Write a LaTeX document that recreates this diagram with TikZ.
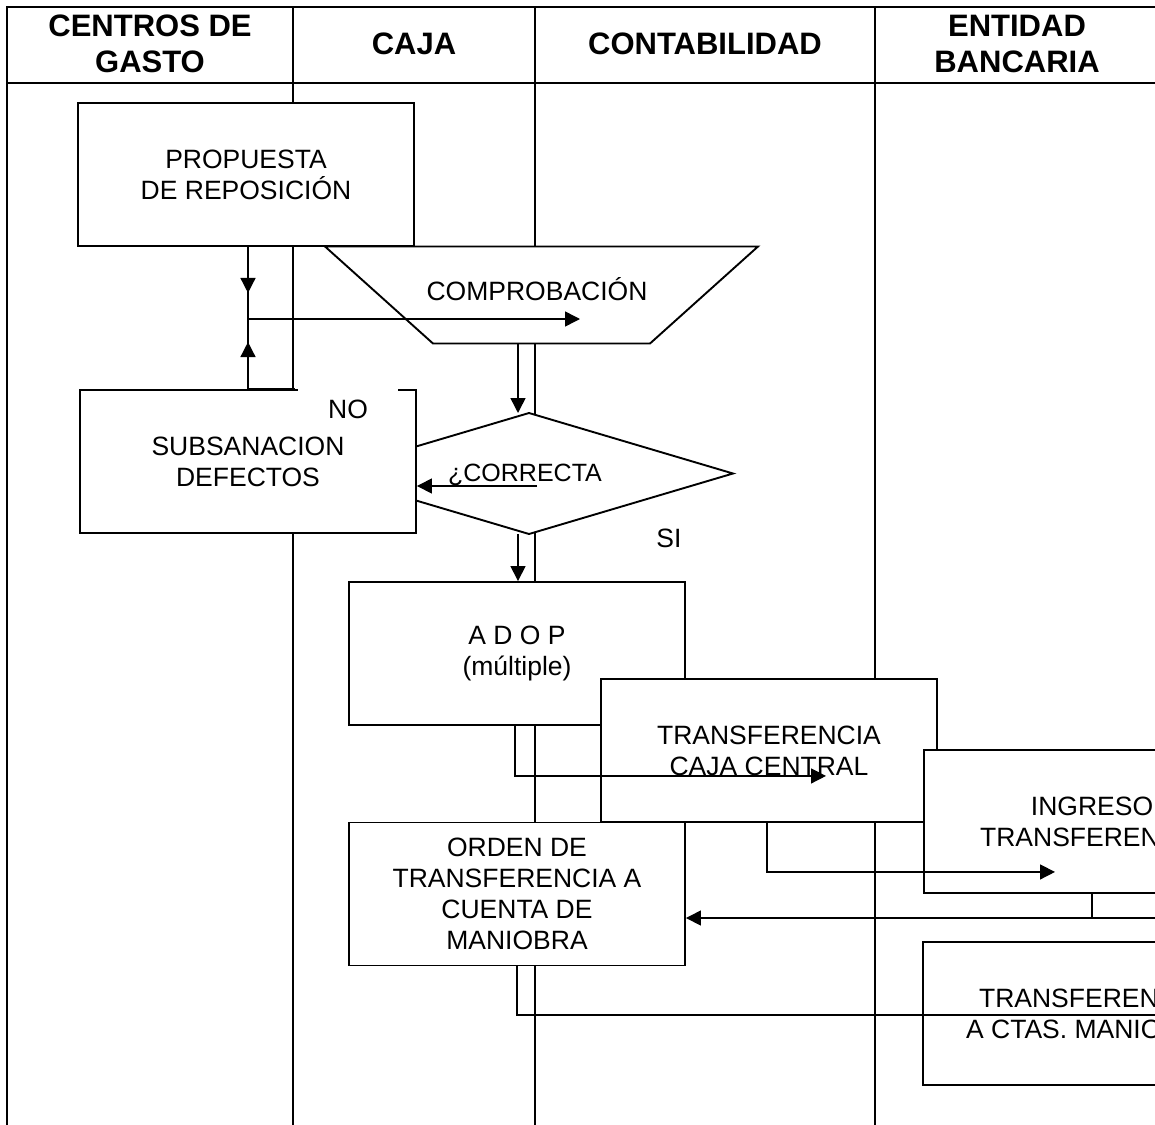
\documentclass[tikz,border=0pt]{standalone}
\usepackage{fontspec}
\setmainfont{Liberation Sans}
\usetikzlibrary{arrows.meta}
\begin{document}
\begin{tikzpicture}[x=1pt,y=-1pt,
  lane/.style={line width=2pt},
  rule/.style={line width=2.6pt},
  hdr/.style={font=\fontsize{31}{36}\selectfont\bfseries, align=center, inner sep=0pt},
  txt/.style={font=\fontsize{26.5}{31}\selectfont, align=center, inner sep=0pt},
  stepbox/.style={draw, line width=1.9pt, fill=white, minimum width=336pt,
    minimum height=143pt, inner sep=0pt, align=center, font=\fontsize{26.5}{31}\selectfont},
  frame/.style={minimum width=#1, inner sep=0pt, outer sep=0pt},
  shapeline/.style={draw, line width=1.9pt, fill=white},
  conn/.style={line width=1.5pt},
  flow/.style={line width=1.5pt, -{Triangle[length=15pt,width=15pt]}}
]
\useasboundingbox (0,0) rectangle (1155,1124);
\clip (0,0) rectangle (1155,1124);

% swimlane grid
\coordinate (c0) at (7,7);
\coordinate (c1) at (293,7);
\coordinate (c2) at (535,7);
\coordinate (c3) at (875,7);
\draw[rule] (7,1130) -- (c0) -- (1170,7);
\draw[rule] (7,83) -- (1170,83);
\foreach \c in {c1,c2,c3} \draw[lane] (\c) -- (\c |- 0,1130);

% lane titles
\node[hdr] (hcg)   at (150,44)  {CENTROS DE\\GASTO};
\node[hdr] (hcaja) at (414,44)  {CAJA};
\node[hdr] (hcont) at (705,44)  {CONTABILIDAD};
\node[hdr] (hbanc) at (1017,44) {ENTIDAD\\BANCARIA};

% proposal
\node[stepbox] (prop) at (246,174.5) {PROPUESTA\\DE REPOSICIÓN};

% checking (inverted trapezoid)
\node[frame=217pt, minimum height=97pt] (comp) at (541.5,295) {};
\path[shapeline] ([xshift=-108pt]comp.north west) -- ([xshift=108pt]comp.north east)
  -- (comp.south east) -- (comp.south west) -- cycle;
\node[txt] (compt) at (537,289) {COMPROBACIÓN};

% decision
\node[frame=408pt, minimum height=121pt] (dec) at (529,473.5) {};
\path[shapeline] (dec.north) -- (dec.east) -- (dec.south) -- (dec.west) -- cycle;
\node[font=\fontsize{25}{29}\selectfont, inner sep=0pt] (dect) at (525,475) {¿CORRECTA};

% fixing defects
\node[stepbox] (sub) at (248,461.5) {SUBSANACION\\DEFECTOS};
\node[txt, fill=white, minimum width=100pt, minimum height=44pt] (no) at (348,409) {NO};
\node[txt] (si) at (669,538) {SI};

% loop between proposal, fixing and checking
\coordinate (j) at (248,319);
\draw[conn] (prop.south -| j) -- (j);
\draw[flow] (prop.south -| j) -- ++(0,46);
\draw[conn] (sub.north -| j) -- (j);
\draw[flow] (sub.north -| j) -- ++(0,-47);
\draw[rule] (sub.north -| j) -- ([xshift=2pt]sub.north -| c1);
\draw[flow] (j) -- ++(332,0);

% checking -> decision -> outcomes
\draw[flow] ([xshift=-23.5pt]comp.south) -- ([xshift=-23.5pt]comp.south |- dec.north);
\coordinate (q) at (537,486);
\draw[flow] (q) -- (q -| sub.east);

% payment boxes
\node[stepbox] (adop) at (517,653.5) {A D O P\\(múltiple)};
\node[stepbox] (tcc) at (769,750.5) {TRANSFERENCIA\\CAJA CENTRAL};
\node[stepbox] (ingreso) at (1092,821.5) {INGRESO\\TRANSFERENCIA};
\node[stepbox] (orden) at (517,894) {ORDEN DE\\TRANSFERENCIA A\\CUENTA DE\\MANIOBRA};

\draw[flow] ([xshift=-11pt]dec.south) -- ([xshift=-11pt]dec.south |- adop.north);
\draw[flow] ([xshift=-2pt]adop.south) -- ++(0,50) -- ++(311,0);
\draw[flow] ([xshift=-2pt]tcc.south) -- ++(0,49) -- ++(288,0);

\coordinate (r1) at (1170,918);
\draw[conn] (ingreso.south) -- (ingreso.south |- r1);
\draw[flow] (r1) -- (r1 -| orden.east);

\node[stepbox] (tctas) at (1091,1013.5) {TRANSFERENCIA\\A CTAS. MANIOBRA};
\coordinate (r2) at (1170,1015);
\draw[conn] (orden.south) -- (orden.south |- r2) -- (r2);
\end{tikzpicture}
\end{document}
